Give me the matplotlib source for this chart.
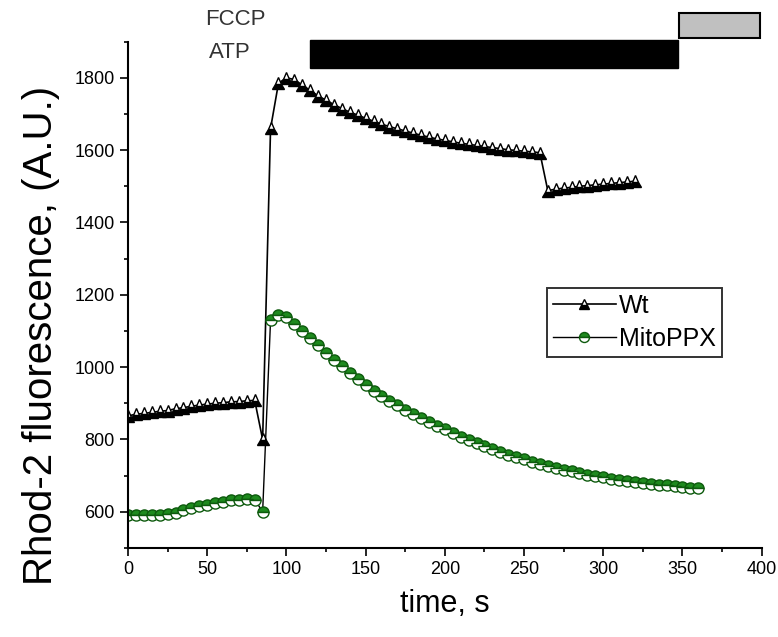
import matplotlib
matplotlib.use("Agg")
from matplotlib import pyplot as plt
from matplotlib.ticker import MultipleLocator

plt.rcParams['font.family'] = ['Liberation Sans', 'DejaVu Sans']

# Wt
wt_time = [0, 5, 10, 15, 20, 25, 30, 35, 40, 45, 50, 55, 60, 65, 70, 75, 80,
           85, 90, 95, 100, 105, 110, 115, 120, 125, 130, 135, 140, 145, 150,
           155, 160, 165, 170, 175, 180, 185, 190, 195, 200, 205, 210, 215,
           220, 225, 230, 235, 240, 245, 250, 255, 260,
           265, 270, 275, 280, 285, 290, 295, 300, 305, 310, 315, 320]
wt_val = [865, 870, 872, 875, 878, 880, 885, 888, 892, 895, 898, 900, 902, 904, 905, 907, 908,
          800, 1660, 1785, 1800, 1795, 1780, 1765, 1750, 1738, 1726, 1715, 1705, 1697, 1688,
          1680, 1672, 1665, 1659, 1653, 1647, 1641, 1636, 1631, 1627, 1623, 1619, 1616,
          1613, 1610, 1607, 1604, 1601, 1599, 1597, 1595, 1593,
          1488, 1492, 1495, 1497, 1500, 1502, 1504, 1506, 1508, 1510, 1512, 1514]

# MitoPPX
ppx_time = [0, 5, 10, 15, 20, 25, 30, 35, 40, 45, 50, 55, 60, 65, 70, 75, 80,
            85, 90, 95, 100, 105, 110, 115, 120, 125, 130, 135, 140, 145, 150,
            155, 160, 165, 170, 175, 180, 185, 190, 195, 200, 205, 210, 215,
            220, 225, 230, 235, 240, 245, 250, 255, 260, 265, 270, 275, 280,
            285, 290, 295, 300, 305, 310, 315, 320, 325, 330, 335, 340, 345,
            350, 355, 360]
ppx_val = [592, 590, 590, 591, 592, 594, 598, 604, 610, 616, 620, 624, 628, 632, 634, 636, 634,
           600, 1130, 1145, 1138, 1120, 1100, 1080, 1060, 1040, 1020, 1002, 985, 967, 950,
           935, 920, 907, 895, 882, 870, 859, 848, 838, 828, 818, 808, 799,
           790, 781, 773, 765, 758, 751, 745, 739, 733, 727, 722, 717, 712,
           707, 703, 699, 695, 691, 688, 685, 682, 679, 677, 675, 673, 671,
           669, 667, 665]

# treatment bars (start, end) in seconds
atp_bar = (115, 347)
fccp_bar = (348, 399)

fig = plt.figure(figsize=(7.78, 6.37), dpi=100)
ax = fig.add_axes([0.1645, 0.1397, 0.8145, 0.795])

green = '#1e8a1e'
ax.plot(wt_time, wt_val, color='black', lw=1.2, marker='^', markersize=8,
        fillstyle='bottom', markerfacecolor='black', markerfacecoloralt='white',
        markeredgecolor='black', markeredgewidth=1.0, label='Wt')
ax.plot(ppx_time, ppx_val, color='black', lw=1.0, marker='o', markersize=8,
        fillstyle='top', markerfacecolor=green, markerfacecoloralt='white',
        markeredgecolor='#0d5a0d', markeredgewidth=1.0, label='MitoPPX')

ax.set_xlim(0, 400)
ax.set_ylim(500, 1900)
ax.xaxis.set_major_locator(MultipleLocator(50))
ax.xaxis.set_minor_locator(MultipleLocator(25))
ax.yaxis.set_minor_locator(MultipleLocator(100))
ax.set_yticks([600, 800, 1000, 1200, 1400, 1600, 1800])
ax.tick_params(which='major', direction='out', length=6, width=1.2, labelsize=13)
ax.tick_params(which='minor', direction='out', length=3, width=1.2)
ax.spines['top'].set_visible(False)
ax.spines['right'].set_visible(False)
ax.spines['left'].set_linewidth(1.5)
ax.spines['bottom'].set_linewidth(1.5)

ax.set_xlabel('time, s', fontsize=22, labelpad=8)
ax.set_ylabel('Rhod-2 fluorescence, (A.U.)', fontsize=29)
ax.yaxis.set_label_coords(-0.108, 0.42)

ax.add_patch(plt.Rectangle((atp_bar[0], 1828), atp_bar[1] - atp_bar[0], 77,
                           facecolor='black', edgecolor='black', clip_on=False))
ax.add_patch(plt.Rectangle((fccp_bar[0], 1910), fccp_bar[1] - fccp_bar[0], 70,
                           facecolor='#c0c0c0', edgecolor='black', lw=1.5, clip_on=False))
ax.text(49, 1960, 'FCCP', fontsize=16, ha='left', va='center', color='#333333')
ax.text(51, 1870, 'ATP', fontsize=16, ha='left', va='center', color='#333333')

leg = ax.legend(loc='upper left', bbox_to_anchor=(0.661, 0.514), fontsize=18,
                frameon=True, fancybox=False, edgecolor='black', handlelength=2.5,
                borderpad=0.25, labelspacing=0.35, handletextpad=0.15,
                borderaxespad=0, markerscale=0.9)
leg.get_frame().set_linewidth(1.4)

fig.savefig('out.png', dpi=100)
